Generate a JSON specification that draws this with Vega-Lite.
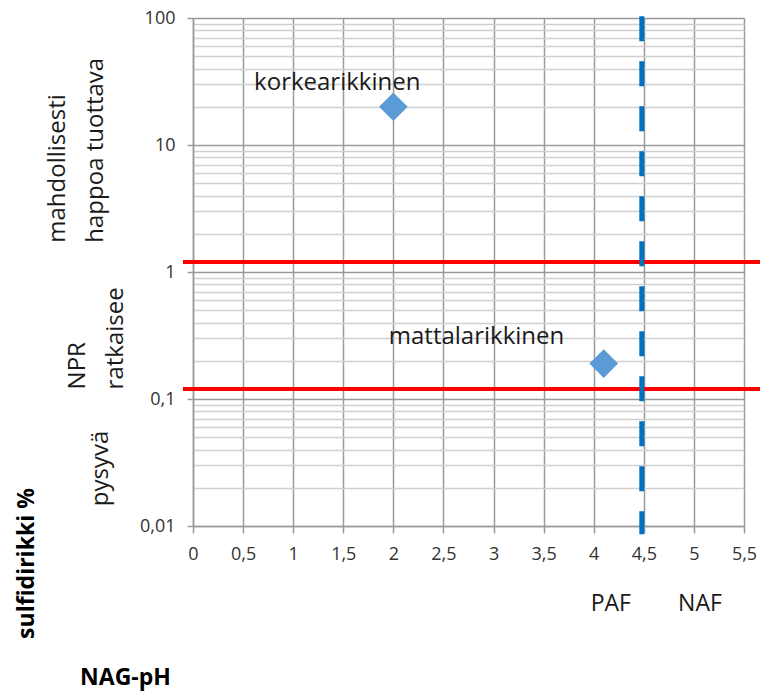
{
  "$schema": "https://vega.github.io/schema/vega-lite/v6.json",
  "width": 551,
  "height": 508,
  "autosize": {"type": "none"},
  "padding": {"left": 193, "top": 18, "right": 16, "bottom": 165},
  "background": "white",
  "config": {
    "view": {"stroke": null},
    "font": "Open Sans",
    "text": {"font": "Open Sans"}
  },
  "datasets": {
    "points": [
      {"x": 2.0, "y": 20},
      {"x": 4.1, "y": 0.19}
    ],
    "thresholds": [
      {"x": -0.1, "x2": 5.66, "y": 1.2},
      {"x": -0.1, "x2": 5.66, "y": 0.12}
    ],
    "boundary": [
      {"x": 4.48, "y": 103, "y2": 0.0086}
    ],
    "pointLabels": [
      {"x": 1.44, "y": 31, "text": "korkearikkinen"},
      {"x": 2.83, "y": 0.31, "text": "mattalarikkinen"}
    ],
    "zoneLabels": [
      {"x": -1.35, "y": 1.7, "text": "mahdollisesti"},
      {"x": -0.97, "y": 1.7, "text": "happoa tuottava"},
      {"x": -1.15, "y": 0.119, "text": "NPR"},
      {"x": -0.77, "y": 0.119, "text": "ratkaisee"},
      {"x": -0.92, "y": 0.0143, "text": "pysyvä"}
    ],
    "classLabels": [
      {"x": 4.17, "y": 0.00242, "text": "PAF"},
      {"x": 5.06, "y": 0.00242, "text": "NAF"}
    ]
  },
  "layer": [
    {
      "data": {"name": "thresholds"},
      "mark": {"type": "rule", "color": "#ff0000", "strokeWidth": 4},
      "encoding": {
        "x": {
          "field": "x",
          "type": "quantitative",
          "scale": {"domain": [0, 5.5], "nice": false, "zero": false},
          "axis": {
            "title": "NAG-pH",
            "titleFont": "Open Sans",
            "titleFontSize": 23,
            "titleFontWeight": "bold",
            "titleColor": "#000000",
            "titleX": -68,
            "titleY": 151,
            "titleAlign": "center",
            "titleBaseline": "middle",
            "titleAnchor": null,
            "values": [0, 0.5, 1, 1.5, 2, 2.5, 3, 3.5, 4, 4.5, 5, 5.5],
            "labelExpr": "replace(format(datum.value, '~g'), '.', ',')",
            "labelFont": "Open Sans",
            "labelFontSize": 18,
            "labelColor": "#333333",
            "labelPadding": 12,
            "labelFlush": false,
            "labelOverlap": false,
            "tickSize": 7,
            "tickColor": "#9a9a9a",
            "tickWidth": 1.5,
            "domainColor": "#9a9a9a",
            "domainWidth": 1.5,
            "grid": true,
            "gridColor": "#9a9a9a",
            "gridWidth": 1.5
          }
        },
        "x2": {"field": "x2"},
        "y": {
          "field": "y",
          "type": "quantitative",
          "scale": {"type": "log", "domain": [0.01, 100], "nice": false},
          "axis": {
            "title": "sulfidirikki %",
            "titleFont": "Open Sans",
            "titleFontSize": 23,
            "titleFontWeight": "bold",
            "titleColor": "#000000",
            "titleAngle": -90,
            "titleX": -167,
            "titleY": 545,
            "titleAlign": "center",
            "titleBaseline": "middle",
            "titleAnchor": null,
            "values": [0.01, 0.02, 0.03, 0.04, 0.05, 0.06, 0.07, 0.08, 0.09,
                       0.1, 0.2, 0.3, 0.4, 0.5, 0.6, 0.7, 0.8, 0.9,
                       1, 2, 3, 4, 5, 6, 7, 8, 9,
                       10, 20, 30, 40, 50, 60, 70, 80, 90, 100],
            "labelExpr": "indexof([0.01, 0.1, 1, 10, 100], datum.value) >= 0 ? replace(format(datum.value, '~g'), '.', ',') : ''",
            "labelFont": "Open Sans",
            "labelFontSize": 18,
            "labelColor": "#333333",
            "labelPadding": 12,
            "labelFlush": false,
            "labelOverlap": false,
            "tickSize": 6,
            "tickColor": "#9a9a9a",
            "tickWidth": 1.5,
            "tickOpacity": {"condition": {"test": "indexof([0.01, 0.1, 1, 10, 100], datum.value) >= 0", "value": 1}, "value": 0},
            "domainColor": "#9a9a9a",
            "domainWidth": 1.5,
            "grid": true,
            "gridColor": {"condition": {"test": "indexof([0.01, 0.1, 1, 10, 100], datum.value) >= 0", "value": "#9a9a9a"}, "value": "#d0d0d0"},
            "gridWidth": 1.5
          }
        }
      }
    },
    {
      "data": {"name": "boundary"},
      "mark": {"type": "rule", "color": "#0070c0", "strokeWidth": 5, "strokeDash": [25, 20]},
      "encoding": {
        "x": {"field": "x", "type": "quantitative"},
        "y": {"field": "y", "type": "quantitative"},
        "y2": {"field": "y2"}
      }
    },
    {
      "data": {"name": "points"},
      "mark": {"type": "point", "shape": "diamond", "filled": true, "size": 820, "color": "#5b9bd5", "opacity": 1},
      "encoding": {
        "x": {"field": "x", "type": "quantitative"},
        "y": {"field": "y", "type": "quantitative"}
      }
    },
    {
      "data": {"name": "pointLabels"},
      "mark": {"type": "text", "font": "Open Sans", "fontSize": 24, "color": "#1a1a1a", "align": "center", "baseline": "middle"},
      "encoding": {
        "x": {"field": "x", "type": "quantitative"},
        "y": {"field": "y", "type": "quantitative"},
        "text": {"field": "text"}
      }
    },
    {
      "data": {"name": "zoneLabels"},
      "mark": {"type": "text", "font": "Open Sans", "fontSize": 24, "color": "#1a1a1a", "align": "left", "baseline": "middle", "angle": -90},
      "encoding": {
        "x": {"field": "x", "type": "quantitative"},
        "y": {"field": "y", "type": "quantitative"},
        "text": {"field": "text"}
      }
    },
    {
      "data": {"name": "classLabels"},
      "mark": {"type": "text", "font": "Open Sans", "fontSize": 23, "color": "#1a1a1a", "align": "center", "baseline": "middle"},
      "encoding": {
        "x": {"field": "x", "type": "quantitative"},
        "y": {"field": "y", "type": "quantitative"},
        "text": {"field": "text"}
      }
    }
  ]
}
